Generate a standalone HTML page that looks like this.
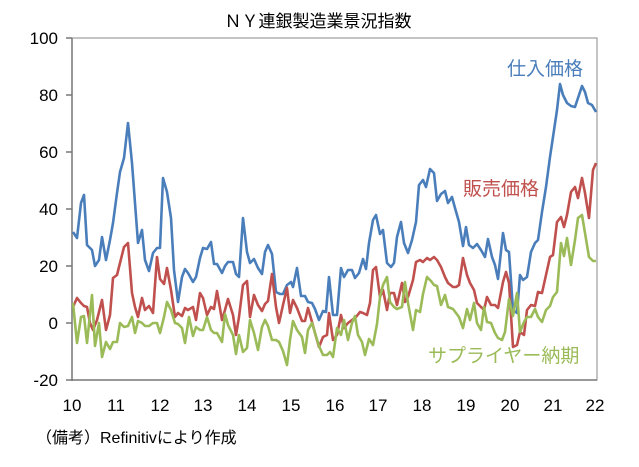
<!DOCTYPE html>
<html><head><meta charset="utf-8"><style>
body{margin:0;background:#fff}
svg text{font-family:"Liberation Sans","Noto Sans CJK JP",sans-serif}
</style></head><body>
<svg width="639" height="462" viewBox="0 0 639 462" xmlns="http://www.w3.org/2000/svg">
<rect width="639" height="462" fill="#fff"/>
<text x="318" y="27" font-size="17" text-anchor="middle" fill="#000">ＮＹ連銀製造業景況指数</text>
<rect x="72" y="38" width="525" height="342" fill="none" stroke="#888" stroke-width="1"/>
<g stroke="#777" stroke-width="1.5">
<line x1="72" y1="38" x2="72" y2="381"/><line x1="72" y1="380" x2="597" y2="380"/>
<line x1="66" y1="38" x2="72" y2="38"/><line x1="66" y1="95" x2="72" y2="95"/><line x1="66" y1="152" x2="72" y2="152"/><line x1="66" y1="209" x2="72" y2="209"/><line x1="66" y1="266" x2="72" y2="266"/><line x1="66" y1="323" x2="72" y2="323"/><line x1="66" y1="380" x2="72" y2="380"/>
</g>
<g font-size="17" text-anchor="end" fill="#000">
<text x="58" y="44">100</text><text x="58" y="101">80</text><text x="58" y="158">60</text><text x="58" y="215">40</text><text x="58" y="272">20</text><text x="58" y="329">0</text><text x="58" y="386">-20</text>
</g>
<g font-size="17" text-anchor="middle" fill="#000">
<text x="72" y="411">10</text><text x="116" y="411">11</text><text x="160" y="411">12</text><text x="203" y="411">13</text><text x="247" y="411">14</text><text x="291" y="411">15</text><text x="335" y="411">16</text><text x="378" y="411">17</text><text x="422" y="411">18</text><text x="466" y="411">19</text><text x="510" y="411">20</text><text x="553" y="411">21</text><text x="595" y="411">22</text>
</g>
<text x="36" y="443" font-size="16" fill="#000">（備考）Refinitivにより作成</text>
<g fill="none" stroke-width="2.6" stroke-linejoin="round">
<polyline stroke="#4a7ebb" points="73,232 77,238 81,203 84,195 87,245 92,250 95,266 99,260 102,237 106,260 110,240 113,223 117,193 120,172 124,158 128,123 132,163 135,203 138,243 142,230 145,260 149,271 153,253 157,248 160,248 163,178 167,192 171,218 174,270 178,302 182,277 185,269 188,273 193,282 196,277 200,258 203,248 207,249 211,242 214,264 217,264 222,273 225,266 228,262 233,262 236,274 239,277 243,218 247,252 250,263 254,259 258,268 262,274 265,252 268,245 272,254 276,292 280,294 283,294 287,285 291,282 293,287 297,268 301,296 305,296 308,302 312,303 315,309 319,320 323,311 326,312 329,277 333,315 337,315 341,268 344,277 348,270 352,270 355,278 359,273 363,259 366,269 369,243 373,220 376,215 380,234 383,230 387,263 391,267 394,263 397,237 401,222 404,243 408,253 412,240 416,222 419,185 423,180 426,187 430,169 434,173 437,201 441,194 445,191 448,203 452,197 455,208 459,222 463,246 466,227 469,245 473,248 477,244 481,250 485,257 488,239 492,257 495,265 498,279 503,233 506,250 509,252 513,310 517,313 520,275 523,280 527,277 531,252 535,243 538,240 542,212 546,187 550,157 553,137 557,110 560,84 563,95 567,103 571,106 575,107 578,98 582,86 585,92 588,103 592,105 596,112"/>
<polyline stroke="#c0504d" points="73,307 77,298 81,303 84,306 87,307 90,323 93,330 97,320 102,300 106,330 110,315 113,278 117,275 120,263 124,247 128,243 132,293 135,307 138,317 142,298 145,310 149,306 153,313 157,257 160,279 164,284 167,268 171,290 175,317 178,313 182,316 185,308 188,310 193,307 196,320 200,293 203,298 207,315 211,307 214,309 217,291 222,320 225,310 228,299 233,315 236,335 239,317 243,285 247,281 250,317 254,295 258,305 262,311 265,304 268,301 272,274 276,307 279,323 283,305 287,288 290,313 293,300 297,308 302,321 305,321 308,308 312,322 315,333 319,347 323,337 327,335 329,313 333,340 337,335 341,315 344,328 348,323 352,320 356,317 360,312 363,313 367,315 370,303 373,270 376,267 380,297 383,290 387,310 390,293 394,293 397,305 402,283 405,302 408,297 413,280 416,262 420,260 423,262 427,258 430,260 434,257 437,260 441,267 445,277 448,283 453,287 456,287 459,285 463,258 467,275 470,283 474,290 477,303 481,307 484,310 487,297 491,305 495,305 498,308 503,282 506,272 509,283 513,347 517,345 520,332 524,335 527,310 531,305 535,306 538,292 542,293 546,275 550,257 553,255 557,222 561,217 564,227 567,215 571,192 575,187 578,198 582,178 585,193 589,218 593,170 596,163"/>
<polyline stroke="#9bbb59" points="73,303 77,343 81,317 84,316 87,343 92,295 95,346 99,323 102,357 106,342 110,349 113,342 117,342 120,323 124,327 128,326 132,317 135,333 138,321 142,323 145,326 149,326 153,323 157,323 160,333 164,317 167,302 171,310 175,323 178,324 182,328 185,343 189,317 193,336 196,327 200,330 203,330 207,317 211,330 214,333 217,333 222,342 225,314 228,325 233,335 236,354 239,335 243,352 247,348 250,320 254,333 258,350 262,327 265,320 268,326 272,340 276,340 279,342 283,351 287,365 290,340 293,321 297,330 302,337 305,353 308,330 312,323 315,333 319,346 323,355 327,355 330,352 333,357 337,328 341,335 344,320 348,340 352,323 355,316 358,335 362,342 365,355 369,339 373,345 377,324 380,297 383,285 387,277 390,302 394,307 397,309 402,307 405,282 408,303 413,330 416,310 420,312 423,294 427,277 431,281 434,285 437,286 441,305 445,295 448,307 453,309 456,313 459,317 463,328 467,309 470,320 474,303 477,323 481,330 484,307 487,322 491,323 495,333 498,338 502,340 505,332 509,299 513,316 517,293 520,332 524,322 527,317 531,317 535,309 538,317 542,322 546,310 550,306 553,297 557,292 561,243 564,256 567,238 571,265 575,240 578,218 582,215 585,233 589,257 593,261 596,261"/>
</g>
<text x="507" y="75" font-size="19" fill="#4a7ebb">仕入価格</text>
<text x="463" y="195" font-size="19" fill="#c0504d">販売価格</text>
<text x="428" y="362" font-size="19" fill="#9bbb59">サプライヤー納期</text>
</svg>
</body></html>
